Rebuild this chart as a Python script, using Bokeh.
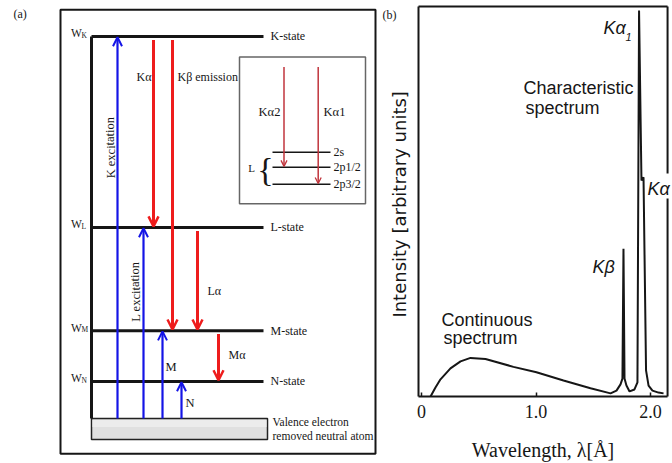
from bokeh.plotting import figure
from bokeh.layouts import row
from bokeh.models import ColumnDataSource, Arrow, OpenHead, Range1d, FixedTicker
from bokeh.core.properties import value
from bokeh.embed import file_html
from bokeh.resources import INLINE

# ---------------- panel (a): energy level diagram ----------------
level_names = ["K", "L", "M", "N"]
level_energy = [100.0, 50.0, 23.0, 9.7]          # arbitrary units above the valence level
level_labels = ["K-state", "L-state", "M-state", "N-state"]

excite_labels = ["K excitation", "L excitation", "M", "N"]
excite_target = ["K", "L", "M", "N"]

emit_labels = ["Kα", "Kβ emission", "Lα", "Mα"]
emit_from = ["K", "K", "L", "M"]
emit_to = ["L", "M", "M", "N"]

sub_names = ["2s", "2p1/2", "2p3/2"]
sub_energy = [69.7, 65.8, 61.3]
fine_labels = ["Kα2", "Kα1"]
fine_to = ["2p1/2", "2p3/2"]

valence_text = ["Valence electron", "removed neutral atom"]

# ---------------- panel (b): X-ray spectrum ----------------
wavelength = [0.079, 0.122, 0.166, 0.253, 0.341, 0.428, 0.559, 0.803, 1.004, 1.240,
              1.476, 1.651, 1.703, 1.738, 1.755, 1.764, 1.773, 1.790, 1.817, 1.860,
              1.886, 1.900, 1.921, 1.939, 1.961, 1.983, 2.017, 2.070, 2.114]
intensity = [0.0, 2.3, 4.4, 7.2, 9.0, 9.9, 9.6, 7.6, 6.2, 4.1,
             2.1, 0.8, 1.5, 3.1, 4.6, 37.9, 4.6, 2.8, 1.3, 1.8,
             3.6, 99.0, 55.4, 56.2, 6.7, 2.8, 1.5, 1.0, 0.8]
tick_values = [0, 1, 2]
tick_labels = ["0", "1.0", "2.0"]

SERIF = "Liberation Serif"
SANS = "Liberation Sans"
INK = "#161616"
BLUE = "#1414e6"
RED = "#ee1c1c"
DARKRED = "#c0343c"

E = dict(zip(level_names, level_energy))
SUB = dict(zip(sub_names, sub_energy))

pa = figure(width=380, height=463, x_range=Range1d(0, 380), y_range=Range1d(-11.78, 109.42),
            toolbar_location=None, output_backend="svg", min_border=0)
pa.axis.visible = False
pa.grid.visible = False
pa.outline_line_color = None

# outer frame and valence block
pa.quad(left=60, right=375, bottom=-9.24, top=107.0, fill_color=None, line_color=INK, line_width=2)
pa.quad(left=91, right=267, bottom=-5.5, top=0, fill_color="#e0e0e0", line_color="#222222", line_width=1.5)
pa.quad(left=92, right=266, bottom=-2.2, top=-0.4, fill_color="#ececec", line_color=None)

# energy levels
lev = ColumnDataSource(dict(y=level_energy, lab=level_labels,
                            w=["W"] * len(level_names), sub=level_names,
                            wy=[e + 0.8 for e in level_energy], sy=[e + 0.2 for e in level_energy]))
pa.segment(x0=91, x1=263, y0="y", y1="y", source=lev, line_width=3, line_color=INK)
pa.segment(x0=91, x1=91, y0=0, y1=max(level_energy), line_width=3, line_color=INK)
pa.text(x=270, y="y", text="lab", source=lev, text_font=value(SERIF), text_font_size="12px",
        text_baseline="middle", text_color=INK)
pa.text(x=70.5, y="wy", text="w", source=lev, text_font=value(SERIF), text_font_size="11.5px",
        text_baseline="middle", text_color=INK)
pa.text(x=81, y="sy", text="sub", source=lev, text_font=value(SERIF), text_font_size="7.5px",
        text_baseline="middle", text_color=INK)

# excitation arrows (blue, upward from the valence level)
excite_x = [117, 143, 162, 181]
exc = ColumnDataSource(dict(x=excite_x, y0=[0.0] * 4, y1=[E[t] - 0.2 for t in excite_target]))
pa.add_layout(Arrow(end=OpenHead(size=9, line_color=BLUE, line_width=2), source=exc,
                    x_start="x", y_start="y0", x_end="x", y_end="y1", line_color=BLUE, line_width=2.2))

# emission arrows (red, downward)
emit_x = [153, 172, 197, 218]
emi = ColumnDataSource(dict(x=emit_x, y0=[E[f] - 0.9 for f in emit_from], y1=[E[t] + 0.3 for t in emit_to]))
pa.add_layout(Arrow(end=OpenHead(size=10, line_color=RED, line_width=2.5), source=emi,
                    x_start="x", y_start="y0", x_end="x", y_end="y1", line_color=RED, line_width=3))

# labels of transitions
pa.text(x=[110, 135], y=[70.9, 33.2], text=excite_labels[:2], angle=1.5708,
        text_font=value(SERIF), text_font_size="12.5px", text_align="center",
        text_baseline="middle", text_color=INK)
pa.text(x=[165, 185], y=[13.6, 4.0], text=excite_labels[2:], text_font=value(SERIF),
        text_font_size="12.5px", text_baseline="middle", text_color=INK)
pa.text(x=[151, 177, 207, 228], y=[89.5, 89.5, 33.5, 16.5], text=emit_labels,
        text_align=["right", "left", "left", "left"], text_font=value(SERIF),
        text_font_size="12px", text_baseline="middle", text_color=INK)

pa.text(x=272, y=[-0.97, -4.7], text=valence_text, text_font=value(SERIF), text_font_size="11.5px",
        text_baseline="middle", text_color=INK)
pa.text(x=13, y=106.0, text=["(a)"], text_font=value(SERIF), text_font_size="12px",
        text_baseline="middle", text_color=INK)

# inset: fine structure of the L shell
pa.quad(left=239, right=365, bottom=56.2, top=94.6, fill_color=None, line_color="#666666", line_width=1.5)
subs = ColumnDataSource(dict(y=sub_energy, lab=sub_names))
pa.segment(x0=272, x1=330, y0="y", y1="y", source=subs, line_width=1.5, line_color=INK)
pa.text(x=333, y="y", text="lab", source=subs, text_font=value(SERIF), text_font_size="12px",
        text_baseline="middle", text_color=INK)
pa.text(x=251, y=65.6, text=["L"], text_font=value(SERIF), text_font_size="11px",
        text_align="center", text_baseline="middle", text_color=INK)
pa.text(x=265, y=65.2, text=["{"], text_font=value(SERIF), text_font_size="34px",
        text_align="center", text_baseline="middle", text_color=INK)

fine_x = [283.5, 317.7]
fin = ColumnDataSource(dict(x=fine_x, y0=[92.0, 92.0], y1=[SUB[t] + 0.2 for t in fine_to]))
pa.add_layout(Arrow(end=OpenHead(size=6, line_color=DARKRED, line_width=1.3), source=fin,
                    x_start="x", y_start="y0", x_end="x", y_end="y1", line_color=DARKRED, line_width=1.5))
pa.text(x=[269, 334], y=80.2, text=fine_labels, text_font=value(SERIF), text_font_size="12.5px",
        text_align="center", text_baseline="middle", text_color=INK)

# ---------------- panel (b) ----------------
x_left, x_right, y_top = -0.026, 2.149, 100.0

pb = figure(width=292, height=463, x_range=Range1d(-0.3581, 2.1921), y_range=Range1d(-17.179, 101.538),
            toolbar_location=None, output_backend="svg", min_border=0)
pb.grid.visible = False
pb.outline_line_color = None

# top and right edges of the box (the right edge is broken by the Kα label)
pb.segment(x0=[x_left, x_right, x_right], y0=[y_top, y_top, 50.8],
           x1=[x_right, x_right, x_right], y1=[y_top, 57.2, 0], line_width=2, line_color=INK)

pb.line(wavelength, intensity, line_width=2, line_color=INK)

xa = pb.xaxis[0]
xa.fixed_location = 0
xa.bounds = (x_left, x_right)
xa.ticker = FixedTicker(ticks=tick_values)
xa.major_label_overrides = dict(zip(tick_values, tick_labels))
xa.major_tick_in = 4
xa.major_tick_out = 0
xa.major_tick_line_width = 1.5
xa.major_tick_line_color = INK
xa.minor_tick_line_color = None
xa.axis_line_color = INK
xa.axis_line_width = 2
xa.major_label_text_font = SERIF
xa.major_label_text_font_size = "18px"
xa.major_label_text_color = INK
xa.major_label_standoff = 8
xa.axis_label = "Wavelength, λ[Å]"
xa.axis_label_text_font = SERIF
xa.axis_label_text_font_style = "normal"
xa.axis_label_text_font_size = "20px"
xa.axis_label_text_color = INK
xa.axis_label_standoff = 18

ya = pb.yaxis[0]
ya.fixed_location = x_left
ya.bounds = (0, y_top)
ya.ticker = FixedTicker(ticks=[])
ya.major_tick_line_color = None
ya.minor_tick_line_color = None
ya.axis_line_color = INK
ya.axis_line_width = 2
ya.major_label_text_font_size = "0px"
ya.axis_label = "Intensity [arbitrary  units]"
ya.axis_label_text_font = "DejaVu Sans"
ya.axis_label_text_font_style = "normal"
ya.axis_label_text_font_size = "18px"
ya.axis_label_text_color = INK
ya.axis_label_standoff = 9

pb.text(x=[0.891, 0.908, 0.175, 0.192], y=[79.2, 74.1, 19.5, 15.1],
        text=["Characteristic", "spectrum", "Continuous", "spectrum"],
        text_font=value(SANS), text_font_size="18px", text_baseline="middle", text_color=INK)
pb.text(x=[1.590, 1.974, 1.493], y=[94.4, 53.1, 33.1], text=["Kα", "Kα", "Kβ"],
        text_font=value(SANS), text_font_style="italic", text_font_size="18px",
        text_baseline="middle", text_color=INK)
pb.text(x=[1.782], y=[92.3], text=["1"], text_font=value(SANS), text_font_style="italic",
        text_font_size="11px", text_baseline="middle", text_color=INK)
pb.text(x=[-0.34], y=[97.7], text=["(b)"], text_font=value(SERIF), text_font_size="12px",
        text_baseline="middle", text_color=INK)

layout = row(pa, pb)
open("out.html", "w").write(file_html(layout, INLINE))
